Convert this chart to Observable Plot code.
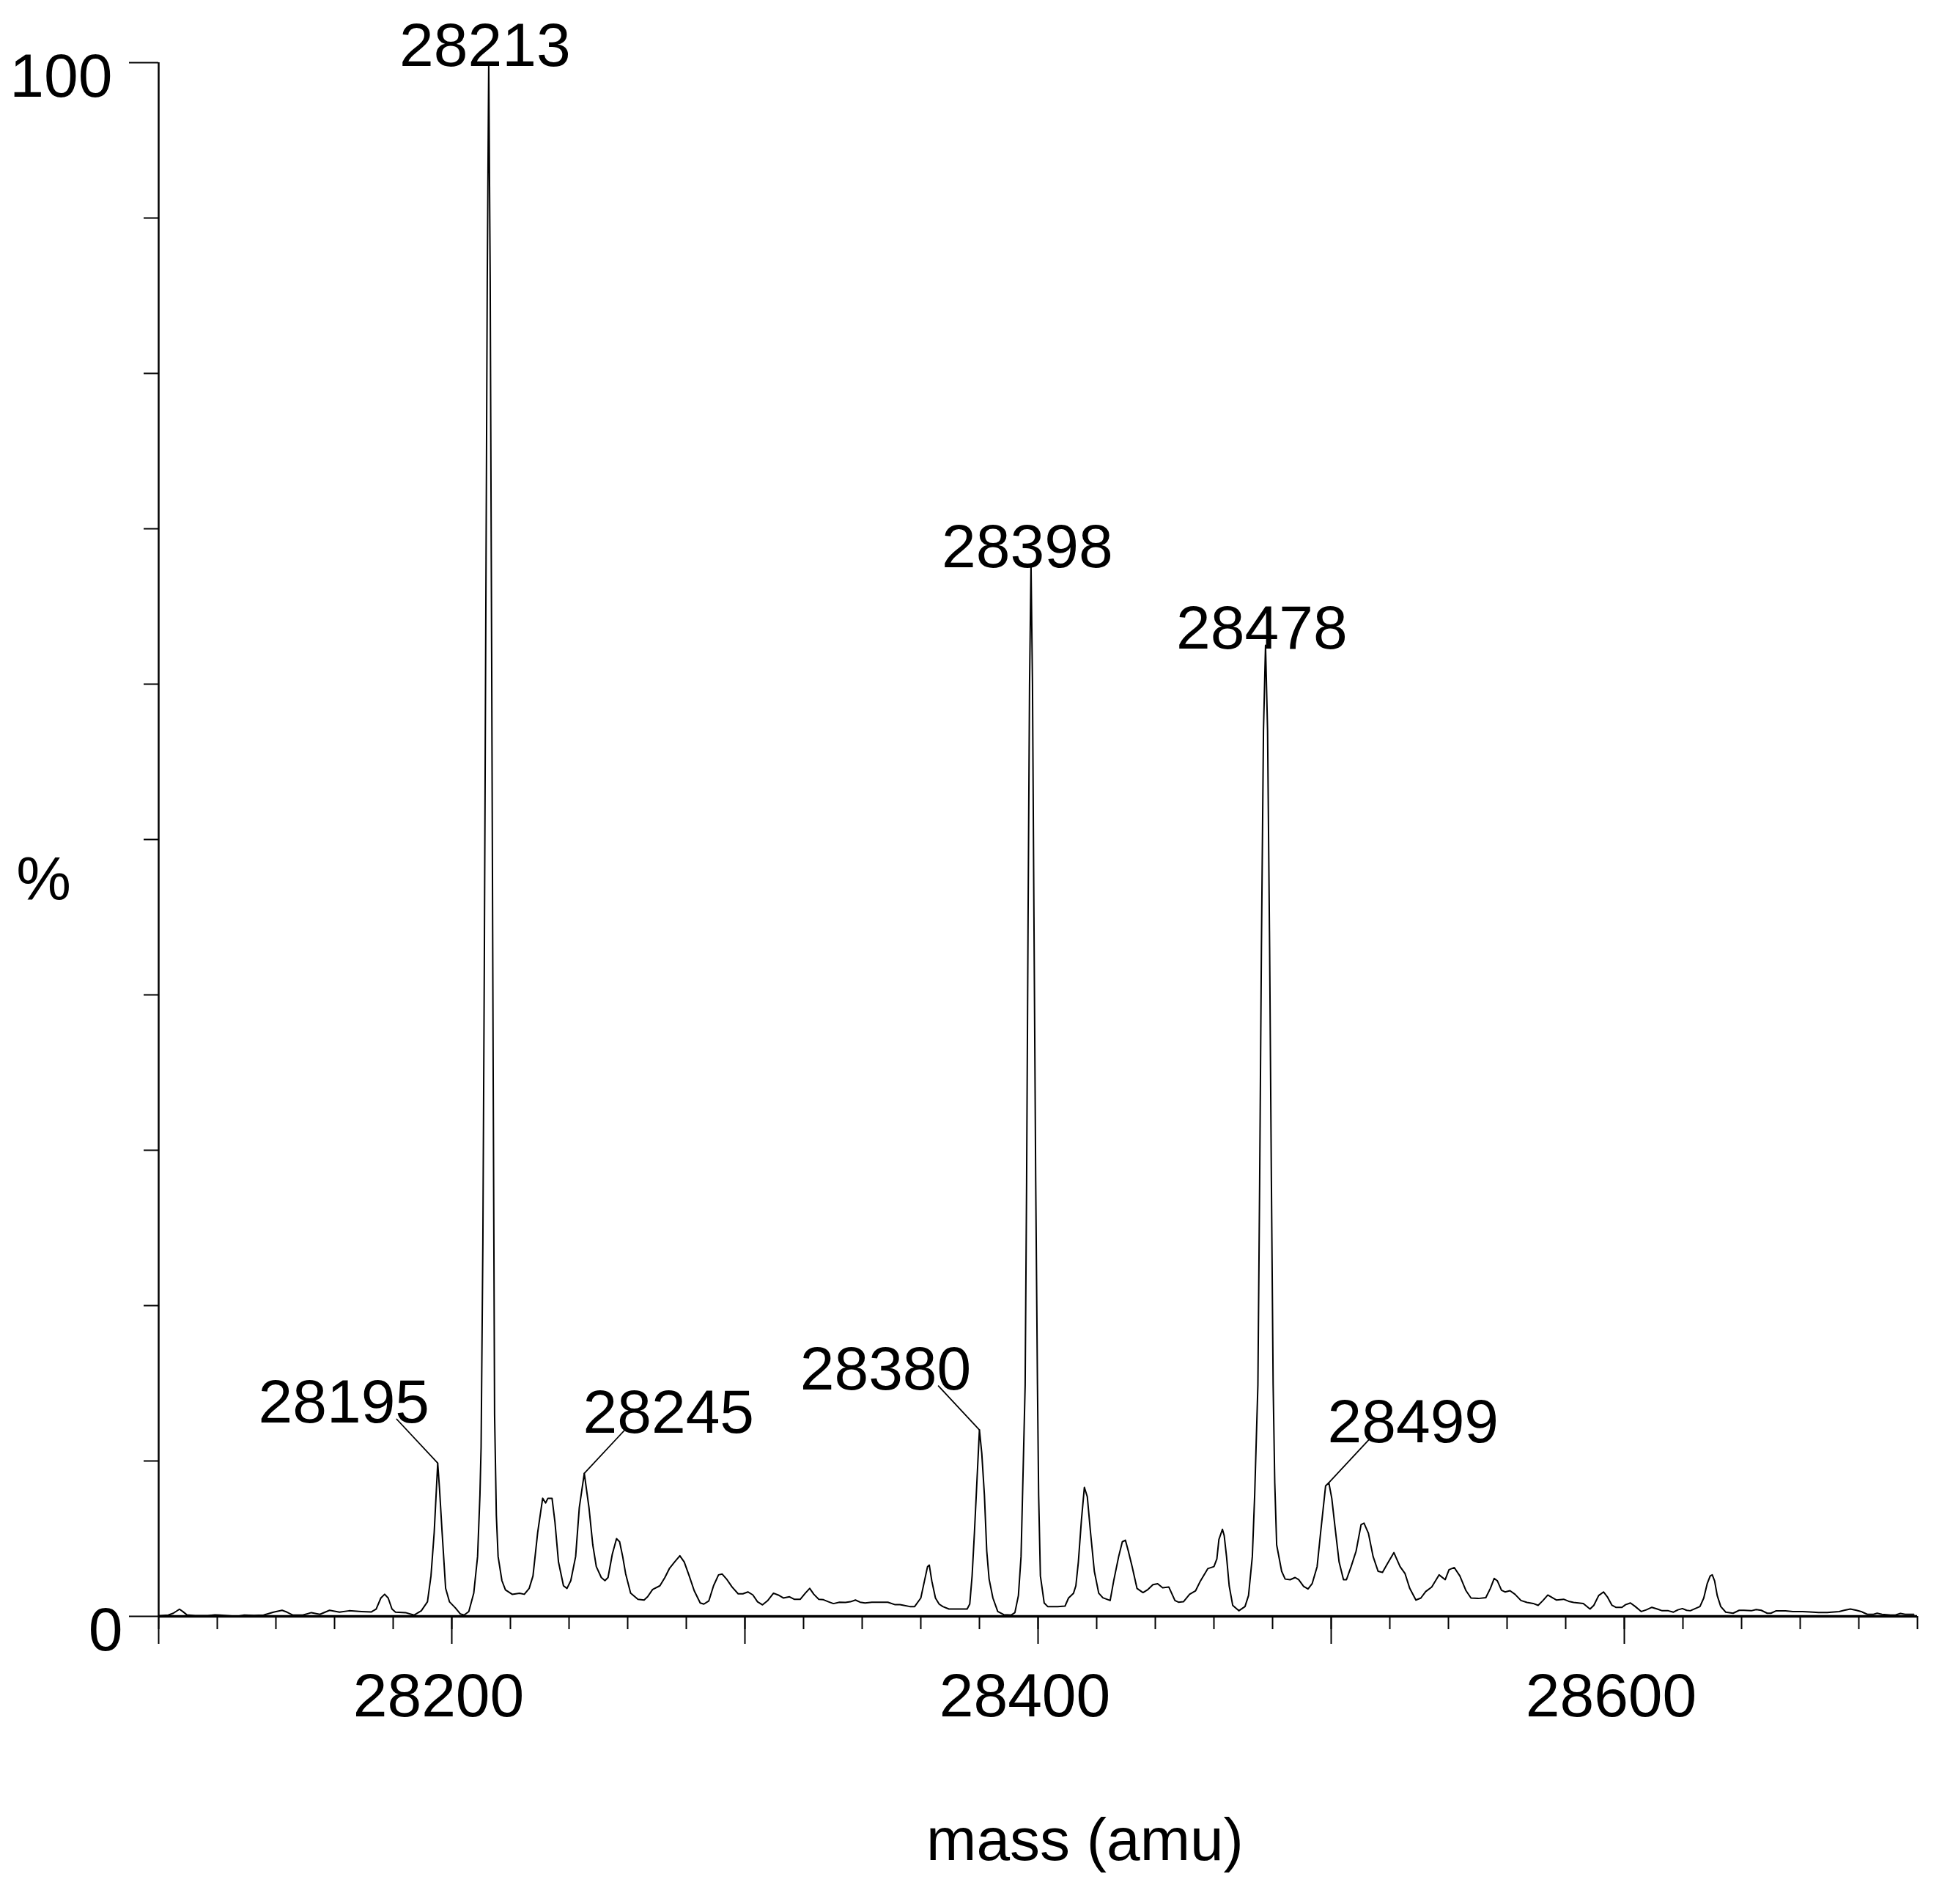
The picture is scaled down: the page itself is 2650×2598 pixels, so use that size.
<!DOCTYPE html>
<html>
<head>
<meta charset="utf-8">
<script src="https://cdn.jsdelivr.net/npm/d3@7"></script>
<script src="https://cdn.jsdelivr.net/npm/@observablehq/plot@0.6"></script>
<style>
  html, body { margin: 0; padding: 0; background: #fff; }
  svg { display: block; }
</style>
</head>
<body>
<script>
// ---- data ----
const masses = [
  28100.0, 28103.3, 28105.0, 28107.1, 28108.3, 28109.6, 28112.5, 28116.7, 28119.2, 28120.8,
  28124.2, 28126.7, 28129.2, 28132.5, 28135.8, 28139.2, 28142.1, 28143.8, 28145.8, 28149.2,
  28152.1, 28155.0, 28158.3, 28161.7, 28165.0, 28169.2, 28172.5, 28174.2, 28175.8, 28177.1,
  28178.3, 28179.6, 28180.8, 28184.2, 28187.1, 28189.6, 28191.7, 28192.9, 28194.0, 28195.2,
  28195.8, 28196.7, 28197.9, 28199.2, 28201.2, 28202.9, 28204.2, 28205.8, 28207.5, 28208.8,
  28209.6, 28210.0, 28210.6, 28211.1, 28211.6, 28212.1, 28212.6, 28213.1, 28213.6, 28214.1,
  28214.6, 28215.2, 28215.8, 28217.1, 28218.3,
  28220.6, 28223.1, 28224.75, 28226.4, 28227.7, 28229.3, 28231.0, 28232.0, 28232.8, 28234.2,
  28235.2, 28236.4, 28238.1, 28239.3, 28240.6, 28242.25, 28243.5, 28245.2, 28246.8, 28248.1,
  28249.3, 28251.0, 28252.25, 28253.3, 28254.75, 28256.2, 28257.25, 28258.3, 28259.3, 28261.0,
  28263.5, 28265.6, 28266.8, 28268.5, 28271.0, 28272.7, 28274.3, 28276.0, 28277.8, 28279.3,
  28281.0, 28282.7, 28284.75, 28286.0, 28287.7, 28289.3, 28291.0, 28292.25, 28293.9, 28295.6,
  28297.7, 28299.3, 28301.0, 28302.7, 28304.3, 28306.0, 28307.7, 28309.75, 28311.4, 28313.1,
  28315.2, 28316.8, 28318.9, 28320.6, 28322.1, 28323.5, 28325.2, 28326.8, 28328.5, 28330.2,
  28332.25, 28334.3, 28336.0, 28337.7, 28339.3, 28341.0,
  28343.3, 28348.75, 28351.25, 28352.9, 28354.2, 28356.25, 28357.9, 28360.0, 28361.25, 28362.3,
  28362.9, 28363.75, 28365.0, 28366.25, 28367.5, 28369.6, 28372.5, 28375.8, 28376.7, 28377.5,
  28378.3, 28379.2, 28380.0, 28380.8, 28381.7, 28382.5, 28383.3, 28384.6, 28386.25, 28388.3,
  28390.8, 28392.1, 28393.3, 28394.2, 28395.0, 28395.6, 28396.1, 28396.6, 28397.1, 28397.6,
  28398.1, 28398.6, 28399.2, 28399.8, 28400.2, 28400.8, 28402.1, 28403.3, 28406.7, 28409.2,
  28410.4, 28412.1, 28412.9, 28413.75, 28414.8, 28415.8, 28416.8, 28417.9, 28419.2, 28420.7,
  28422.1, 28424.6, 28425.8, 28427.5, 28428.75, 28429.8, 28430.8, 28432.1, 28433.75, 28435.8,
  28437.5, 28439.2, 28440.8, 28442.5, 28444.6, 28446.7, 28447.9, 28449.6, 28451.7, 28453.75,
  28455.4, 28457.9, 28460.0, 28461.0, 28461.7, 28462.9, 28463.5,
  28464.3, 28465.2, 28466.4, 28468.5, 28470.6, 28471.8, 28473.1, 28473.9, 28474.5, 28475.0,
  28475.6, 28476.2, 28476.9, 28477.6, 28478.3, 28479.0, 28479.6, 28480.2, 28480.75, 28481.4,
  28483.1, 28484.3, 28486.0, 28487.7, 28488.9, 28490.6, 28492.1, 28493.5, 28495.2, 28496.4,
  28498.1, 28499.2, 28500.2, 28501.4, 28502.7, 28504.2, 28505.2, 28506.8, 28508.5, 28510.2,
  28511.2, 28512.7, 28514.3, 28516.0, 28517.5, 28519.2, 28521.4, 28523.5, 28525.2, 28526.8,
  28528.9, 28530.6, 28532.25, 28534.3, 28536.8, 28538.9, 28540.2, 28542.0, 28543.9, 28546.0,
  28547.7, 28550.2, 28552.75, 28554.3, 28555.6, 28556.7, 28558.1, 28559.3, 28561.0, 28562.7,
  28564.75, 28566.8, 28568.9, 28570.6, 28572.25, 28573.9, 28575.6, 28576.8, 28579.3, 28581.0,
  28582.7, 28586.0,
  28588.3, 28589.6, 28591.25, 28592.9, 28594.2, 28595.8, 28597.1, 28599.2, 28600.4, 28602.1,
  28603.75, 28605.8, 28607.5, 28609.4, 28611.25, 28612.9, 28615.0, 28616.7, 28618.3, 28619.8,
  28621.25, 28622.5, 28624.2, 28625.8, 28627.1, 28628.3, 28629.3, 28630.0, 28630.8, 28631.7,
  28632.9, 28634.6, 28637.1, 28639.2, 28640.8, 28643.3, 28645.0, 28646.7, 28648.75, 28650.0,
  28651.7, 28655.0, 28657.5, 28660.8, 28663.3, 28666.25, 28669.2, 28673.3, 28675.0, 28677.1,
  28679.2, 28680.8, 28682.9, 28685.0, 28686.25, 28687.9, 28690.8, 28692.5, 28694.2, 28695.8,
  28698.75
];
const intensities = [
  0.03, 0.08, 0.20, 0.46, 0.30, 0.10, 0.05, 0.05, 0.10, 0.08,
  0.03, 0.00, 0.08, 0.06, 0.08, 0.27, 0.39, 0.27, 0.08, 0.08,
  0.24, 0.13, 0.39, 0.27, 0.36, 0.31, 0.28, 0.47, 1.18, 1.42,
  1.18, 0.47, 0.27, 0.24, 0.08, 0.36, 0.94, 2.6, 5.4, 9.86,
  8.25, 5.4, 1.8, 0.94, 0.55, 0.16, 0.08, 0.31, 1.5, 3.85,
  7.8, 10.9, 24, 42, 64, 86, 100, 86, 62, 36,
  13, 6.5, 3.85, 2.3, 1.7,
  1.42, 1.49, 1.42, 1.8, 2.6, 5.4, 7.6, 7.3, 7.6, 7.6,
  6.05, 3.5, 1.97, 1.8, 2.3, 3.85, 7.0, 9.2, 7.0, 4.6,
  3.2, 2.5, 2.3, 2.5, 4.0, 5.0, 4.8, 3.85, 2.75, 1.5,
  1.1, 1.05, 1.26, 1.73, 1.97, 2.5, 3.1, 3.5, 3.9, 3.5,
  2.6, 1.65, 0.86, 0.79, 1.0, 1.97, 2.67, 2.72, 2.36, 1.89,
  1.45, 1.45, 1.57, 1.38, 0.94, 0.74, 1.0, 1.49, 1.37, 1.18,
  1.26, 1.1, 1.1, 1.49, 1.8, 1.42, 1.1, 1.07, 0.94, 0.82,
  0.91, 0.9, 0.94, 1.05, 0.91, 0.86,
  0.91, 0.91, 0.75, 0.75, 0.71, 0.63, 0.63, 1.18, 2.28, 3.2,
  3.3, 2.28, 1.18, 0.79, 0.63, 0.47, 0.47, 0.47, 0.79, 2.6,
  5.4, 8.9, 12.0, 10.5, 7.8, 4.2, 2.4, 1.18, 0.31, 0.11,
  0.08, 0.24, 1.34, 3.85, 10.1, 14.9, 28, 45, 60, 67.7,
  60, 45, 28, 14.9, 7.8, 2.6, 0.86, 0.63, 0.63, 0.66,
  1.18, 1.49, 1.97, 3.5, 6.2, 8.3, 7.7, 5.4, 2.9, 1.49,
  1.2, 1.02, 2.28, 3.85, 4.8, 4.9, 4.2, 3.2, 1.8, 1.53,
  1.73, 2.04, 2.1, 1.84, 1.89, 1.02, 0.91, 0.94, 1.42, 1.65,
  2.28, 3.07, 3.2, 3.7, 4.95, 5.6, 5.2,
  3.85, 1.97, 0.71, 0.36, 0.63, 1.34, 3.85, 7.8, 11.7, 14.9,
  28, 43, 57, 62.5, 57, 43, 28, 14.9, 8.6, 4.6,
  2.9, 2.4, 2.36, 2.5, 2.36, 1.93, 1.76, 2.1, 3.2, 5.4,
  8.4, 8.6, 7.6, 5.6, 3.5, 2.36, 2.36, 3.2, 4.2, 5.9,
  6.0, 5.35, 3.85, 2.9, 2.83, 3.4, 4.1, 3.2, 2.75, 1.8,
  1.05, 1.18, 1.6, 1.89, 2.67, 2.36, 3.0, 3.14, 2.6, 1.65,
  1.18, 1.15, 1.2, 1.8, 2.44, 2.28, 1.68, 1.57, 1.65, 1.42,
  1.02, 0.9, 0.83, 0.71, 1.02, 1.37, 1.18, 1.05, 1.1, 0.97,
  0.9, 0.83,
  0.47, 0.71, 1.34, 1.57, 1.26, 0.71, 0.58, 0.58, 0.75, 0.86,
  0.63, 0.31, 0.42, 0.58, 0.47, 0.36, 0.36, 0.27, 0.42, 0.5,
  0.39, 0.36, 0.5, 0.63, 1.18, 2.12, 2.6, 2.67, 2.28, 1.34,
  0.63, 0.27, 0.2, 0.39, 0.39, 0.36, 0.44, 0.39, 0.2, 0.2,
  0.35, 0.35, 0.31, 0.31, 0.28, 0.25, 0.25, 0.31, 0.39, 0.47,
  0.39, 0.31, 0.13, 0.13, 0.2, 0.13, 0.08, 0.08, 0.19, 0.13,
  0.13
];

// labelled peaks and where their label sits
const peakLabels = [28195, 28213, 28245, 28380, 28398, 28478, 28499];
const peakLabelSide = ["left", "above", "right", "left", "above", "above", "right"];

// axes
const xDomain = [28100, 28700];
const xMinorTicks = d3.range(28100, 28701, 20);
const xMajorTicks = [28100, 28200, 28300, 28400, 28500, 28600];
const xLabelTicks = [28200, 28400, 28600];
const yDomain = [0, 100];
const yMinorTicks = [10, 20, 30, 40, 50, 60, 70, 80, 90];
const yMajorTicks = [0, 100];
const xTitle = "mass (amu)";
const yTitle = "%";

// ---- build tables ----
const spectrum = masses.map((m, i) => ({mass: m, pct: intensities[i]}));
const labels = peakLabels.map((L, i) => {
  let best = null;
  for (const d of spectrum) {
    if (Math.abs(d.mass - L) <= 2 && (!best || d.pct > best.pct)) best = d;
  }
  return {text: String(L), mass: best.mass, pct: best.pct, side: peakLabelSide[i]};
});
const above = labels.filter(d => d.side === "above");
const left = labels.filter(d => d.side === "left");
const right = labels.filter(d => d.side === "right");

const FONT = "'Liberation Sans', Arial, Helvetica, sans-serif";
const FS = 84;
const plain = d => String(d);

const chart = Plot.plot({
  width: 2650,
  height: 2598,
  marginLeft: 216,
  marginRight: 34,
  marginTop: 85,
  marginBottom: 393,
  x: {domain: xDomain, label: null},
  y: {domain: yDomain, label: null},
  style: {fontFamily: FONT, fontSize: FS + "px", background: "#fff", color: "#000", overflow: "visible"},
  marks: [
    // axis lines
    Plot.ruleX([xDomain[0]], {stroke: "#000", strokeWidth: 2.5}),
    Plot.ruleY([yDomain[0]], {stroke: "#000", strokeWidth: 3.5}),
    // x ticks
    Plot.axisX(xMinorTicks, {anchor: "bottom", tickSize: 18, tickFormat: () => "", strokeWidth: 2, label: null}),
    Plot.axisX(xMajorTicks, {anchor: "bottom", tickSize: 38, tickFormat: () => "", strokeWidth: 2, label: null}),
    Plot.axisX(xLabelTicks, {anchor: "bottom", tickSize: 0, tickPadding: 77, dx: -18, fontSize: FS, tickFormat: plain, label: null}),
    // y ticks
    Plot.axisY(yMinorTicks, {anchor: "left", tickSize: 20, tickFormat: () => "", strokeWidth: 2, label: null}),
    Plot.axisY(yMajorTicks, {anchor: "left", tickSize: 40, tickFormat: () => "", strokeWidth: 2, label: null}),
    Plot.axisY(yMajorTicks.filter(d => d === 100), {anchor: "left", tickSize: 0, tickPadding: 63, dy: 20, fontSize: FS, tickFormat: plain, label: null}),
    Plot.axisY(yMajorTicks.filter(d => d === 0), {anchor: "left", tickSize: 0, tickPadding: 49, dy: 20, fontSize: FS, tickFormat: plain, label: null}),
    // titles
    Plot.text([yTitle], {frameAnchor: "left", textAnchor: "middle", dx: -157, dy: 56, fontSize: FS}),
    Plot.text([xTitle], {frameAnchor: "bottom", textAnchor: "middle", lineAnchor: "bottom", dx: 64, dy: 332, fontSize: 82}),
    // spectrum
    Plot.line(spectrum, {x: "mass", y: "pct", stroke: "#000", strokeWidth: 2, curve: "linear"}),
    // leader lines
    Plot.vector(left, {x: "mass", y: "pct", length: 82, rotate: -43, anchor: "start", r: 0, stroke: "#000", strokeWidth: 1.8}),
    Plot.vector(right, {x: "mass", y: "pct", length: 83, rotate: 43, anchor: "start", r: 0, stroke: "#000", strokeWidth: 1.8}),
    // peak labels
    Plot.text(above, {x: "mass", y: "pct", text: "text", textAnchor: "middle", lineAnchor: "bottom", dx: -5, dy: 4, fontSize: FS, fill: "#000"}),
    Plot.text(left, {x: "mass", y: "pct", text: "text", textAnchor: "middle", lineAnchor: "bottom", dx: -128, dy: -55, fontSize: FS, fill: "#000"}),
    Plot.text(right, {x: "mass", y: "pct", text: "text", textAnchor: "middle", lineAnchor: "bottom", dx: 115, dy: -55, fontSize: FS, fill: "#000"})
  ]
});
document.body.appendChild(chart);
</script>
</body>
</html>
